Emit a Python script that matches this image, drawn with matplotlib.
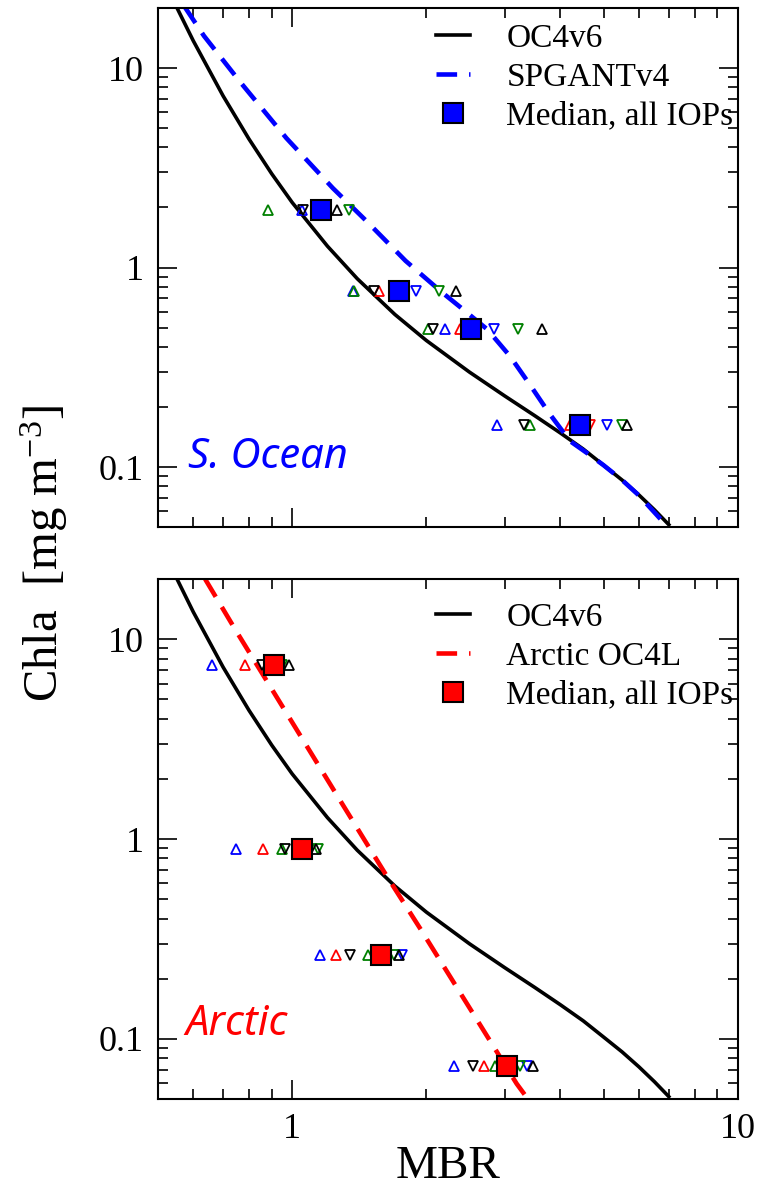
import matplotlib
matplotlib.use('Agg')  # no display here

import numpy as np
import matplotlib.pyplot as plt
from matplotlib.ticker import LogLocator, NullFormatter

plt.rcParams['font.family'] = 'Liberation Serif'
plt.rcParams['mathtext.fontset'] = 'custom'
plt.rcParams['mathtext.rm'] = 'Liberation Serif'
plt.rcParams['mathtext.it'] = 'Liberation Serif:italic'

# ---- model curves (MBR, Chla) ----
oc4_mbr = [0.55, 0.6, 0.7, 0.8, 0.9, 1.0, 1.2, 1.4, 1.7, 2.0, 2.5, 3.0, 3.5, 4.0, 4.5, 5.0, 5.5, 6.0, 6.5, 7.0]
oc4_chl = [20.3, 13.7, 7.25, 4.41, 2.95, 2.12, 1.28, 0.879, 0.582, 0.431, 0.299, 0.227, 0.181, 0.148,
           0.123, 0.102, 0.086, 0.0724, 0.061, 0.0514]

spgant_mbr = [0.572, 0.634, 0.765, 0.971, 1.234, 1.464, 1.797, 2.17, 2.39, 2.74, 3.08, 3.41, 3.78, 4.2,
              4.6, 5.0, 5.5, 6.0, 6.8]
spgant_chl = [20.5, 14.5, 8.5, 4.45, 2.5, 1.72, 1.08, 0.75, 0.63, 0.49, 0.36, 0.26, 0.185, 0.135,
              0.117, 0.102, 0.086, 0.072, 0.053]

arctic_mbr = [0.638, 0.745, 1.0, 1.3, 1.63, 1.94, 2.5, 3.19, 3.38]
arctic_chl = [20.0, 11.2, 3.84, 1.48, 0.653, 0.355, 0.143, 0.0596, 0.05]

# ---- Southern Ocean: Chla bins, median and per-IOP MBR ----
so_chl = [1.95, 0.767, 0.49, 0.163]
so_median = [1.16, 1.74, 2.52, 4.42]
so_blue_up = [1.05, 1.37, 2.20, 2.88]
so_blue_dn = [1.17, 1.90, 2.84, 5.08]
so_red_up = [1.14, 1.57, 2.38, 4.20]
so_red_dn = [1.18, 1.76, 2.50, 4.66]
so_green_up = [0.884, 1.38, 2.02, 3.42]
so_green_dn = [1.34, 2.14, 3.22, 5.51]
so_black_up = [1.26, 2.33, 3.64, 5.64]
so_black_dn = [1.06, 1.53, 2.07, 3.31]

# ---- Arctic ----
ar_chl = [7.44, 0.891, 0.263, 0.0733]
ar_median = [0.911, 1.05, 1.58, 3.04]
ar_blue_up = [0.661, 0.749, 1.155, 2.31]
ar_blue_dn = [0.92, 1.06, 1.76, 3.36]
ar_red_up = [0.782, 0.860, 1.255, 2.69]
ar_red_dn = [0.90, 1.04, 1.57, 3.02]
ar_green_up = [0.93, 0.948, 1.48, 2.85]
ar_green_dn = [0.95, 1.14, 1.69, 3.25]
ar_black_up = [0.986, 1.13, 1.74, 3.47]
ar_black_dn = [0.857, 0.964, 1.35, 2.55]

GREEN = '#008000'

fig = plt.figure(figsize=(7.65, 11.93), dpi=100)
ax1 = fig.add_axes([0.2065, 0.5582, 0.758, 0.4351])
ax2 = fig.add_axes([0.2065, 0.0788, 0.758, 0.4358])


def setup(ax, bottom_labels):
    ax.set_xscale('log')
    ax.set_yscale('log')
    ax.set_xlim(0.5, 10)
    ax.set_ylim(0.05, 20)
    ax.set_xticks([1, 10], ['1', '10'])
    ax.set_yticks([0.1, 1, 10], ['0.1', '1', '10'])
    ax.xaxis.set_minor_locator(LogLocator(base=10, subs=np.arange(2, 10)))
    ax.yaxis.set_minor_locator(LogLocator(base=10, subs=np.arange(2, 10)))
    ax.xaxis.set_minor_formatter(NullFormatter())
    ax.yaxis.set_minor_formatter(NullFormatter())
    ax.tick_params(which='both', direction='in', top=True, right=True, width=1.2)
    ax.tick_params(which='major', length=14, labelsize=26)
    ax.tick_params(which='minor', length=7)
    ax.tick_params(axis='y', pad=10)
    ax.tick_params(axis='x', pad=10, labelbottom=bottom_labels)
    for s in ax.spines.values():
        s.set_linewidth(1.5)


def triangles(ax, chl, groups):
    for xs, col, mk in groups:
        ax.plot(xs, chl, linestyle='none', marker=mk, markersize=7,
                markerfacecolor='none', markeredgecolor=col, markeredgewidth=1.3)


# top panel: Southern Ocean
setup(ax1, False)
ax1.plot(oc4_mbr, oc4_chl, color='black', lw=2.6, label='OC4v6')
ax1.plot(spgant_mbr, spgant_chl, color='blue', lw=3.3, dashes=(4.5, 2.6), label='SPGANTv4')
triangles(ax1, so_chl, [(so_blue_up, 'blue', '^'), (so_blue_dn, 'blue', 'v'),
                        (so_red_up, 'red', '^'), (so_red_dn, 'red', 'v'),
                        (so_green_up, GREEN, '^'), (so_green_dn, GREEN, 'v'),
                        (so_black_up, 'black', '^'), (so_black_dn, 'black', 'v')])
ax1.plot(so_median, so_chl, linestyle='none', marker='s', markersize=15,
         markerfacecolor='blue', markeredgecolor='black', markeredgewidth=1.5,
         label='Median, all IOPs')
ax1.legend(loc='upper left', bbox_to_anchor=(0.48, 0.97), frameon=False, fontsize=24,
           handlelength=1.0, handletextpad=1.1, labelspacing=0.25, borderpad=0,
           borderaxespad=0, numpoints=1)
ax1.text(0.052, 0.113, 'S. Ocean', transform=ax1.transAxes, color='blue',
         fontsize=30, family='Noto Sans', style='italic', va='baseline')

# bottom panel: Arctic
setup(ax2, True)
ax2.plot(oc4_mbr, oc4_chl, color='black', lw=2.6, label='OC4v6')
ax2.plot(arctic_mbr, arctic_chl, color='red', lw=3.3, dashes=(4.5, 2.6), label='Arctic OC4L')
triangles(ax2, ar_chl, [(ar_blue_up, 'blue', '^'), (ar_blue_dn, 'blue', 'v'),
                        (ar_red_up, 'red', '^'), (ar_red_dn, 'red', 'v'),
                        (ar_green_up, GREEN, '^'), (ar_green_dn, GREEN, 'v'),
                        (ar_black_up, 'black', '^'), (ar_black_dn, 'black', 'v')])
ax2.plot(ar_median, ar_chl, linestyle='none', marker='s', markersize=15,
         markerfacecolor='red', markeredgecolor='black', markeredgewidth=1.5,
         label='Median, all IOPs')
ax2.legend(loc='upper left', bbox_to_anchor=(0.48, 0.955), frameon=False, fontsize=24,
           handlelength=1.0, handletextpad=1.1, labelspacing=0.25, borderpad=0,
           borderaxespad=0, numpoints=1)
ax2.text(0.047, 0.123, 'Arctic', transform=ax2.transAxes, color='red',
         fontsize=30, family='Noto Sans', style='italic', va='baseline')

ax2.set_xlabel('MBR', fontsize=34, labelpad=0)
fig.text(0.0575, 0.5356, 'Chla  [mg m$^{-3}$]', rotation=90, fontsize=35,
         ha='center', va='center')

plt.savefig('out.png', dpi=100)
